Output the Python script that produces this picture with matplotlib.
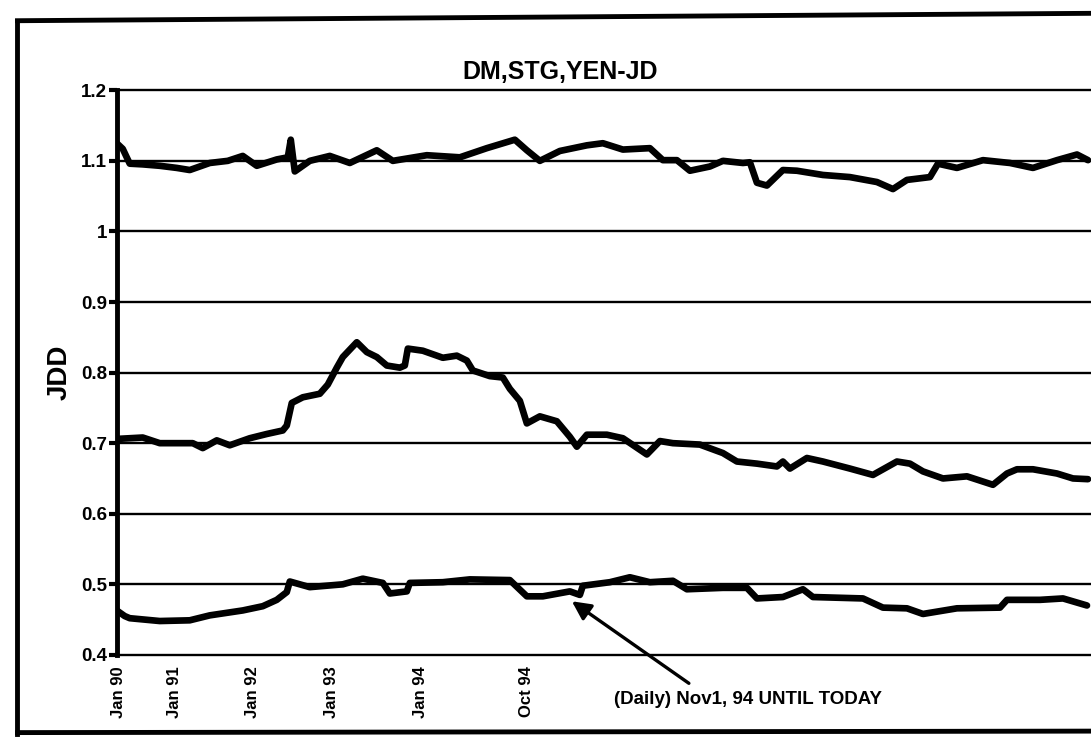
import numpy as np
import matplotlib
matplotlib.use("Agg")
import matplotlib.pyplot as plt
from matplotlib.lines import Line2D

plt.rcParams['font.family'] = ['Liberation Sans', 'DejaVu Sans']
plt.rcParams['font.weight'] = 'bold'

# observation position along the time axis (Jan 90 = 0)
x_dm = [0, 0.6, 1.3, 2.6, 4.3, 6.0, 7.3, 9.3, 11.1, 12.6, 14.0, 16.0, 17.1, 17.4,
        17.8, 19.3, 21.3, 23.3, 26.0, 27.6, 31.0, 34.3, 37.0, 39.8, 41.0, 42.3,
        44.3, 47.0, 48.6, 50.6, 53.3, 54.6, 56.0, 57.3, 59.3, 60.6, 62.6, 63.3,
        64.0, 65.0, 66.6, 68.0, 70.6, 73.3, 76.0, 77.6, 79.0, 81.3, 82.1, 84.0,
        86.6, 89.3, 91.6, 94.0, 96.0, 97.1]
dm = [1.125, 1.117, 1.096, 1.095, 1.093, 1.090, 1.087, 1.097, 1.100, 1.107, 1.093,
      1.102, 1.105, 1.130, 1.085, 1.100, 1.107, 1.097, 1.115, 1.100, 1.108, 1.105,
      1.118, 1.130, 1.115, 1.100, 1.114, 1.122, 1.125, 1.116, 1.118, 1.101, 1.101,
      1.086, 1.092, 1.100, 1.097, 1.098, 1.069, 1.065, 1.087, 1.086, 1.080, 1.077,
      1.070, 1.060, 1.073, 1.077, 1.096, 1.090, 1.101, 1.097, 1.090, 1.101, 1.109,
      1.101]

x_stg = [0, 2.6, 4.3, 7.6, 8.6, 10.0, 11.3, 13.3, 15.0, 16.6, 17.0, 17.5, 18.6,
         20.3, 21.1, 22.0, 22.6, 24.0, 25.0, 26.0, 27.0, 28.3, 28.8, 29.1, 30.6,
         32.6, 34.0, 35.0, 35.6, 37.3, 38.6, 39.3, 40.3, 41.0, 42.3, 44.0, 45.3,
         46.0, 47.0, 49.0, 50.6, 53.0, 54.3, 55.6, 58.3, 60.6, 62.0, 64.0, 66.0,
         66.6, 67.3, 69.0, 70.6, 73.3, 75.6, 78.0, 79.3, 80.6, 82.6, 85.0, 87.6,
         89.0, 90.0, 91.6, 94.0, 95.6, 97.1]
stg = [0.706, 0.708, 0.700, 0.700, 0.693, 0.704, 0.697, 0.707, 0.713, 0.718, 0.725,
       0.757, 0.765, 0.770, 0.783, 0.807, 0.822, 0.843, 0.829, 0.822, 0.810, 0.807,
       0.810, 0.834, 0.831, 0.821, 0.824, 0.817, 0.803, 0.795, 0.793, 0.777, 0.760,
       0.728, 0.738, 0.731, 0.709, 0.695, 0.712, 0.712, 0.707, 0.684, 0.703, 0.700,
       0.698, 0.686, 0.674, 0.671, 0.667, 0.674, 0.664, 0.679, 0.674, 0.664, 0.655,
       0.674, 0.671, 0.660, 0.650, 0.653, 0.641, 0.657, 0.663, 0.663, 0.657, 0.650,
       0.649]

x_yen = [0, 0.8, 1.3, 4.3, 7.3, 9.3, 12.6, 14.6, 16.0, 17.0, 17.3, 19.3, 22.6,
         24.6, 26.6, 27.3, 29.0, 29.3, 32.6, 35.3, 39.3, 41.0, 42.6, 45.3, 46.3,
         46.6, 49.3, 51.3, 53.3, 55.6, 57.0, 60.6, 63.0, 64.0, 66.6, 68.6, 69.6,
         74.6, 76.6, 79.0, 80.6, 84.0, 88.3, 89.0, 92.3, 94.6, 97.0]
yen = [0.463, 0.455, 0.452, 0.448, 0.449, 0.456, 0.463, 0.469, 0.478, 0.489, 0.504,
       0.496, 0.500, 0.508, 0.502, 0.487, 0.490, 0.502, 0.503, 0.507, 0.506, 0.483,
       0.483, 0.490, 0.485, 0.498, 0.503, 0.510, 0.503, 0.505, 0.493, 0.495, 0.495,
       0.480, 0.482, 0.493, 0.482, 0.480, 0.467, 0.466, 0.458, 0.466, 0.467, 0.478,
       0.478, 0.480, 0.470]

tick_pos = [0.2, 5.8, 13.6, 21.5, 30.4, 41.0]
tick_labels = ['Jan 90', 'Jan 91', 'Jan 92', 'Jan 93', 'Jan 94', 'Oct 94']
y_ticks = [0.4, 0.5, 0.6, 0.7, 0.8, 0.9, 1.0, 1.1, 1.2]
y_labels = ['0.4', '0.5', '0.6', '0.7', '0.8', '0.9', '1', '1.1', '1.2']

fig = plt.figure(figsize=(10.91, 7.40), dpi=100)
ax = fig.add_axes([0.107, 0.115, 0.893, 0.763])

for gy in y_ticks:
    ax.axhline(gy, color='black', lw=1.7, zorder=1, clip_on=False)

for xs, ys in [(x_dm, dm), (x_stg, stg), (x_yen, yen)]:
    ax.plot(xs, ys, color='black', lw=4.8, solid_joinstyle='round',
            solid_capstyle='round', zorder=3)

ax.set_xlim(0, 97.4)
ax.set_ylim(0.4, 1.2)
for s in ['top', 'right', 'bottom']:
    ax.spines[s].set_visible(False)
ax.spines['left'].set_linewidth(3.5)

ax.set_yticks(y_ticks)
ax.set_yticklabels(y_labels, fontsize=13.5, fontweight='bold')
ax.tick_params(axis='y', length=6, width=3, direction='out', pad=1)
ax.set_xticks(tick_pos)
ax.set_xticklabels(tick_labels, rotation=90, fontsize=12, fontweight='bold')
ax.tick_params(axis='x', length=0, pad=8)

ax.set_ylabel('JDD', fontsize=20, fontweight='bold', labelpad=6)
ax.set_title('DM,STG,YEN-JD', fontsize=18, fontweight='bold', x=0.455, pad=8)

ax.annotate('(Daily) Nov1, 94 UNTIL TODAY', xy=(45.5, 0.476), xytext=(63.1, 0.337),
            fontsize=13.5, fontweight='bold', ha='center', va='center',
            annotation_clip=False,
            arrowprops=dict(arrowstyle='-|>', color='black', lw=2.4,
                            mutation_scale=28, relpos=(0.32, 1.0), shrinkA=6,
                            shrinkB=0))

# scanned page frame
for xs, ys in [([0.016, 0.016], [0.008, 0.972]),
               ([0.016, 1.0], [0.972, 0.982]),
               ([0.016, 1.0], [0.010, 0.012])]:
    fig.add_artist(Line2D(xs, ys, color='black', lw=3.5))

fig.savefig('out.png', dpi=100)
